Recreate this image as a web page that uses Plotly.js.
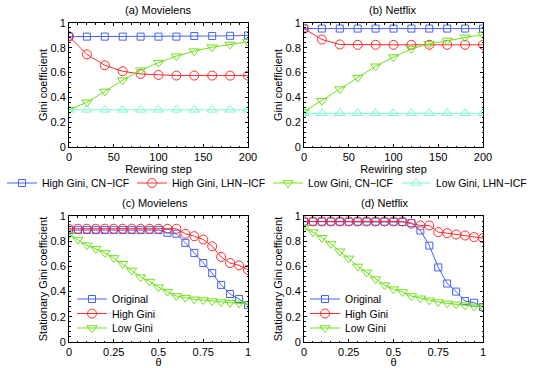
<!DOCTYPE html>
<html>
<head>
<meta charset="utf-8">
<script src="https://cdn.plot.ly/plotly-3.0.1.min.js"></script>
<style>
  html, body { margin: 0; padding: 0; background: #fff; }
  #chart { width: 533px; height: 368px; }
</style>
</head>
<body>
<div id="chart"></div>
<script>
// rewiring steps (top panels)
let steps = [0, 20, 40, 60, 80, 100, 120, 140, 160, 180, 200];

// (a) Movielens
let mlHighCN  = [0.89, 0.89, 0.89, 0.89, 0.89, 0.89, 0.89, 0.895, 0.895, 0.897, 0.90];
let mlHighLHN = [0.893, 0.747, 0.659, 0.611, 0.589, 0.581, 0.576, 0.576, 0.576, 0.576, 0.576];
let mlLowCN   = [0.30, 0.36, 0.448, 0.539, 0.619, 0.68, 0.733, 0.773, 0.805, 0.827, 0.848];
let mlLowLHN  = [0.30, 0.30, 0.30, 0.30, 0.30, 0.30, 0.30, 0.30, 0.30, 0.30, 0.30];

// (b) Netflix
let nfHighCN  = [0.955, 0.955, 0.955, 0.955, 0.955, 0.955, 0.955, 0.955, 0.955, 0.955, 0.955];
let nfHighLHN = [0.955, 0.867, 0.827, 0.824, 0.824, 0.824, 0.824, 0.824, 0.824, 0.824, 0.824];
let nfLowCN   = [0.285, 0.373, 0.467, 0.56, 0.651, 0.725, 0.792, 0.832, 0.859, 0.885, 0.907];
let nfLowLHN  = [0.272, 0.272, 0.272, 0.272, 0.272, 0.272, 0.272, 0.272, 0.272, 0.272, 0.272];

// theta values (bottom panels)
let theta = [0, 0.05, 0.1, 0.15, 0.2, 0.25, 0.3, 0.35, 0.4, 0.45, 0.5,
             0.55, 0.6, 0.65, 0.7, 0.75, 0.8, 0.85, 0.9, 0.95, 1];

// (c) Movielens
let mlOrig = [0.888, 0.888, 0.888, 0.888, 0.888, 0.888, 0.888, 0.888, 0.888, 0.888, 0.888,
              0.867, 0.859, 0.787, 0.707, 0.627, 0.547, 0.453, 0.381, 0.341, 0.293];
let mlHigh = [0.899, 0.899, 0.899, 0.899, 0.899, 0.899, 0.899, 0.899, 0.899, 0.899, 0.899,
              0.899, 0.899, 0.859, 0.84, 0.813, 0.76, 0.675, 0.627, 0.608, 0.573];
let mlLow  = [0.853, 0.813, 0.768, 0.739, 0.707, 0.667, 0.621, 0.568, 0.515, 0.48, 0.435,
              0.40, 0.365, 0.352, 0.339, 0.333, 0.325, 0.317, 0.312, 0.307, 0.301];

// (d) Netflix
let nfOrig = [0.955, 0.955, 0.955, 0.955, 0.955, 0.955, 0.955, 0.955, 0.955, 0.955, 0.955,
              0.952, 0.944, 0.885, 0.765, 0.592, 0.464, 0.40, 0.325, 0.312, 0.277];
let nfHigh = [0.957, 0.957, 0.957, 0.957, 0.957, 0.957, 0.957, 0.957, 0.957, 0.957, 0.957,
              0.957, 0.939, 0.925, 0.925, 0.872, 0.864, 0.853, 0.845, 0.832, 0.824];
let nfLow  = [0.907, 0.872, 0.827, 0.779, 0.72, 0.664, 0.60, 0.552, 0.499, 0.451, 0.419,
              0.397, 0.365, 0.347, 0.331, 0.317, 0.307, 0.299, 0.291, 0.283, 0.277];

let topNames = ['High Gini, CN\u2212ICF', 'High Gini, LHN\u2212ICF', 'Low Gini, CN\u2212ICF', 'Low Gini, LHN\u2212ICF'];
let botNames = ['Original', 'High Gini', 'Low Gini'];

const BLUE = '#4763f5';
const RED = '#ff2b2b';
const GREEN = '#6fe01a';
const CYAN = '#7cf5cf';
const FONT = 'Liberation Sans, Arial, Helvetica, sans-serif';

function line(x, y, name, color, symbol, size, xa, ya, legend, show) {
	return {
		x: x, y: y, name: name, type: 'scatter', mode: 'lines+markers',
		xaxis: xa, yaxis: ya, legend: legend, showlegend: show,
		line: {color: color, width: 1},
		marker: {symbol: symbol, size: size, color: color, line: {color: color, width: 1}}
	};
}

// each legend entry gets its own legend box so it can sit where the original puts it
let data = [
	line(steps, mlHighCN, topNames[0], BLUE, 'square-open', 7, 'x', 'y', 'legend', true),
	line(steps, mlHighLHN, topNames[1], RED, 'circle-open', 9, 'x', 'y', 'legend2', true),
	line(steps, mlLowCN, topNames[2], GREEN, 'triangle-down-open', 9, 'x', 'y', 'legend3', true),
	line(steps, mlLowLHN, topNames[3], CYAN, 'triangle-up-open', 9, 'x', 'y', 'legend4', true),

	line(steps, nfHighCN, topNames[0], BLUE, 'square-open', 7, 'x2', 'y2', 'legend', false),
	line(steps, nfHighLHN, topNames[1], RED, 'circle-open', 9, 'x2', 'y2', 'legend', false),
	line(steps, nfLowCN, topNames[2], GREEN, 'triangle-down-open', 9, 'x2', 'y2', 'legend', false),
	line(steps, nfLowLHN, topNames[3], CYAN, 'triangle-up-open', 9, 'x2', 'y2', 'legend', false),

	line(theta, mlOrig, botNames[0], BLUE, 'square-open', 7, 'x3', 'y3', 'legend5', true),
	line(theta, mlHigh, botNames[1], RED, 'circle-open', 9, 'x3', 'y3', 'legend6', true),
	line(theta, mlLow, botNames[2], GREEN, 'triangle-down-open', 9, 'x3', 'y3', 'legend7', true),

	line(theta, nfOrig, botNames[0], BLUE, 'square-open', 7, 'x4', 'y4', 'legend8', true),
	line(theta, nfHigh, botNames[1], RED, 'circle-open', 9, 'x4', 'y4', 'legend9', true),
	line(theta, nfLow, botNames[2], GREEN, 'triangle-down-open', 9, 'x4', 'y4', 'legend10', true)
];

const W = 533, H = 368;
function xd(a, b) { return [a / W, b / W]; }
function yd(top, bottom) { return [1 - bottom / H, 1 - top / H]; }

function axis(dom, anchor, minorStep, extra) {
	return Object.assign({
		domain: dom, anchor: anchor, showline: true, mirror: 'allticks', linecolor: '#000', linewidth: 1,
		ticks: 'inside', ticklen: 3, tickcolor: '#000', showgrid: false, zeroline: false,
		minor: {ticks: 'inside', ticklen: 1.5, tickcolor: '#000', dtick: minorStep, showgrid: false},
		tickfont: {size: 11, color: '#000'}, automargin: false
	}, extra);
}

let stepX = {range: [0, 200], tickvals: [0, 50, 100, 150, 200],
	title: {text: 'Rewiring step', font: {size: 11}, standoff: 1}};
let giniY = {range: [0, 1], tickvals: [0, 0.2, 0.4, 0.6, 0.8, 1], ticktext: ['0', '0.2', '0.4', '0.6', '0.8', '1'],
	title: {text: 'Gini coefficient', font: {size: 11}, standoff: 0}};
let thetaX = {range: [0, 1], tickvals: [0, 0.25, 0.5, 0.75, 1], ticktext: ['0', '0.25', '0.5', '0.75', '1'],
	title: {text: '\u03b8', font: {size: 11}, standoff: 4}};
let statY = {range: [0, 1], tickvals: [0, 0.2, 0.4, 0.6, 0.8, 1], ticktext: ['0', '0.2', '0.4', '0.6', '0.8', '1'],
	title: {text: 'Stationary Gini coefficient', font: {size: 11}, standoff: 0}};

function title(text, x, y) {
	return {text: text, xref: 'paper', yref: 'paper', x: x / W, y: 1 - y / H,
		xanchor: 'center', yanchor: 'middle', showarrow: false, font: {size: 11, color: '#000'}};
}

// legend box: left edge at px (text starts 40px further right), centred on py
function leg(px, py) {
	return {x: px / W, y: 1 - py / H, xanchor: 'left', yanchor: 'middle',
		bgcolor: 'rgba(0,0,0,0)', borderwidth: 0, font: {size: 10.5, color: '#000'}, itemwidth: 30};
}

let layout = {
	width: W, height: H,
	margin: {l: 0, r: 0, t: 0, b: 0},
	paper_bgcolor: '#fff', plot_bgcolor: '#fff',
	font: {family: FONT, size: 11, color: '#000'},
	xaxis: axis(xd(69, 248), 'y', 10, stepX),
	yaxis: axis(yd(23, 147), 'x', 0.04, giniY),
	xaxis2: axis(xd(304, 483), 'y2', 10, stepX),
	yaxis2: axis(yd(23, 147), 'x2', 0.04, giniY),
	xaxis3: axis(xd(69, 248), 'y3', 0.05, thetaX),
	yaxis3: axis(yd(216, 342), 'x3', 0.04, statY),
	xaxis4: axis(xd(304, 483), 'y4', 0.05, thetaX),
	yaxis4: axis(yd(216, 342), 'x4', 0.04, statY),
	legend: leg(2, 183),
	legend2: leg(132, 183),
	legend3: leg(268, 183),
	legend4: leg(396, 183),
	legend5: leg(72, 299),
	legend6: leg(72, 313.5),
	legend7: leg(72, 328),
	legend8: leg(305, 299),
	legend9: leg(305, 313.5),
	legend10: leg(305, 328),
	annotations: [
		title('(a) Movielens', 158, 10),
		title('(b) Netflix', 393, 10),
		title('(c) Movielens', 155, 203),
		title('(d) Netflix', 385, 203)
	]
};

Plotly.newPlot('chart', data, layout, {staticPlot: true});
</script>
</body>
</html>
